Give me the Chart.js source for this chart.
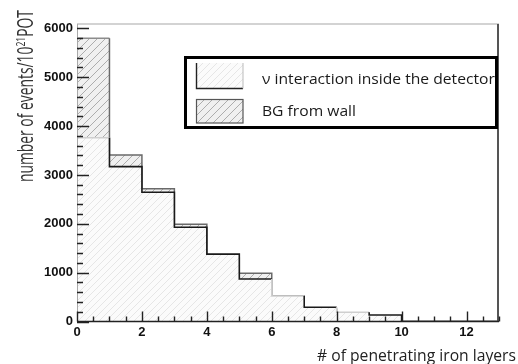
<!DOCTYPE html>
<html>
<head>
<meta charset="utf-8">
<script src="https://cdn.jsdelivr.net/npm/chart.js@4.4.1/dist/chart.umd.min.js"></script>
<style>
  html, body { margin: 0; padding: 0; background: #fff; }
  #wrap { width: 518px; height: 364px; }
</style>
</head>
<body>
<div id="wrap"><canvas id="c" width="518" height="364"></canvas></div>
<script>
// events per bin of penetrated iron layers (bins 0-1, 1-2, ... 12-13)
const signalCounts = [3760, 3170, 2645, 1930, 1380, 870, 522, 291, 188, 133, 0, 0, 0];
const bgCounts     = [5800, 3410, 2720, 1990, 1300, 987, 522, 250, 150, 100, 0, 0, 0];
const seriesNames  = ['\u03bd interaction inside the detector', 'BG from wall'];
const xTickValues  = [0, 2, 4, 6, 8, 10, 12];
const yTickValues  = [0, 1000, 2000, 3000, 4000, 5000, 6000];
const xTitle = '# of penetrating iron layers';

// step outline through the bin right edges
function steps(counts) {
    const pts = [{ x: 0, y: 0 }];
    counts.forEach((v, i) => pts.push({ x: i + 1, y: v }));
    pts.push({ x: counts.length, y: 0 });
    return pts;
}

function hatch(bg, fg, s) {
    const c = document.createElement('canvas');
    c.width = c.height = s;
    const g = c.getContext('2d');
    g.fillStyle = bg;
    g.fillRect(0, 0, s, s);
    g.strokeStyle = fg;
    g.lineWidth = 1;
    g.beginPath();
    g.moveTo(0, s); g.lineTo(s, 0);
    g.moveTo(-1, 1); g.lineTo(1, -1);
    g.moveTo(s - 1, s + 1); g.lineTo(s + 1, s - 1);
    g.stroke();
    return document.getElementById('c').getContext('2d').createPattern(c, 'repeat');
}

const sigPattern = hatch('#fbfbfb', '#e6e6e6', 7);
const bgPattern = hatch('#f0f0f0', '#adadad', 8);
const dimBins = new Set([0, 6, 8]);

// draws text squeezed to a given width
function fitText(ctx, parts, x, y, width, rotate) {
    let total = 0;
    parts.forEach(p => { ctx.font = p.font; p.w = ctx.measureText(p.text).width; total += p.w; });
    ctx.save();
    ctx.translate(x, y);
    if (rotate) ctx.rotate(-Math.PI / 2);
    ctx.scale(width / total, 1);
    let cx = 0;
    parts.forEach(p => {
        ctx.font = p.font;
        ctx.fillText(p.text, cx, p.dy || 0);
        cx += p.w;
    });
    ctx.restore();
}

const rootStyle = {
    id: 'rootStyle',
    afterDatasetsDraw(chart) {
        const ctx = chart.ctx, a = chart.chartArea;
        const xs = chart.scales.x, ys = chart.scales.y;
        ctx.save();
        // frame
        ctx.strokeStyle = '#c4c4c4'; ctx.lineWidth = 1.5;
        ctx.beginPath(); ctx.moveTo(a.left, a.top); ctx.lineTo(a.right, a.top); ctx.stroke();
        ctx.strokeStyle = '#a8a8a8'; ctx.lineWidth = 1;
        ctx.beginPath(); ctx.moveTo(a.left + 0.5, a.top); ctx.lineTo(a.left + 0.5, a.bottom); ctx.stroke();
        ctx.strokeStyle = '#555'; ctx.lineWidth = 2;
        ctx.beginPath(); ctx.moveTo(a.right - 1, a.top); ctx.lineTo(a.right - 1, a.bottom); ctx.stroke();
        ctx.strokeStyle = '#222'; ctx.lineWidth = 1.5;
        ctx.beginPath(); ctx.moveTo(a.left, a.bottom); ctx.lineTo(a.right, a.bottom); ctx.stroke();
        // inside ticks
        ctx.strokeStyle = '#222'; ctx.lineWidth = 1.4;
        ctx.beginPath();
        for (let v = 0; v <= ys.max; v += 200) {
            const py = Math.round(ys.getPixelForValue(v)) + 0.5;
            const len = v % 1000 === 0 ? 12 : 6;
            ctx.moveTo(a.left, py); ctx.lineTo(a.left + len, py);
        }
        for (let v = 0; v <= xs.max; v += 0.5) {
            const px = Math.round(xs.getPixelForValue(v)) + 0.5;
            const len = v % 2 === 0 ? 10 : 5;
            ctx.moveTo(px, a.bottom); ctx.lineTo(px, a.bottom - len);
        }
        ctx.stroke();
        ctx.restore();
    },
    afterDraw(chart) {
        const ctx = chart.ctx;
        ctx.save();
        ctx.fillStyle = '#333';
        ctx.textBaseline = 'alphabetic';
        // axis titles
        fitText(ctx, [
            { text: 'number of events/10', font: '21px "Open Sans"' },
            { text: '21', font: '13px "Open Sans"', dy: -8 },
            { text: 'POT', font: '21px "Open Sans"' }
        ], 33, 182, 172, true);
        ctx.fillStyle = '#222';
        fitText(ctx, [{ text: xTitle, font: '17px "Open Sans"' }], 317, 361, 199, false);

        // legend
        const L = { x: 185.5, y: 57.5, w: 311, h: 70 };
        ctx.fillStyle = '#fff';
        ctx.fillRect(L.x, L.y, L.w, L.h);
        ctx.fillStyle = sigPattern;
        ctx.fillRect(196, 63, 47, 25);
        ctx.strokeStyle = '#222'; ctx.lineWidth = 1.4;
        ctx.beginPath(); ctx.moveTo(196.5, 63); ctx.lineTo(196.5, 88.5); ctx.lineTo(243, 88.5); ctx.stroke();
        ctx.strokeStyle = '#bbb'; ctx.lineWidth = 1;
        ctx.beginPath(); ctx.moveTo(243, 63); ctx.lineTo(243, 88.5); ctx.stroke();
        ctx.fillStyle = bgPattern;
        ctx.fillRect(196, 99, 47, 24);
        ctx.strokeStyle = '#555'; ctx.lineWidth = 1.2;
        ctx.strokeRect(196.5, 99.5, 46.5, 23.5);

        ctx.save();
        ctx.beginPath(); ctx.rect(L.x, L.y, L.w - 1, L.h); ctx.clip();
        ctx.font = '15px "Open Sans"';
        const k = 94 / ctx.measureText(seriesNames[1]).width;
        ctx.fillStyle = '#1a1a1a';
        ctx.textBaseline = 'middle';
        [80, 112].forEach((yy, i) => {
            ctx.save();
            ctx.translate(262, yy);
            ctx.scale(k, 1);
            ctx.fillText(seriesNames[i], 0, 0);
            ctx.restore();
        });
        ctx.restore();
        ctx.strokeStyle = '#000'; ctx.lineWidth = 3;
        ctx.strokeRect(L.x, L.y, L.w, L.h);
        ctx.restore();
    }
};

const tickFont = { family: 'Liberation Sans', weight: 'bold', size: 13 };

new Chart(document.getElementById('c'), {
    type: 'line',
    data: {
        datasets: [{
            // outline of the signal histogram
            label: seriesNames[0],
            data: steps(signalCounts),
            stepped: 'after',
            borderColor: '#1a1a1a',
            borderWidth: 1.6,
            fill: false,
            pointRadius: 0,
            segment: {
                borderColor: c => dimBins.has(c.p0DataIndex) ? '#cfcfcf' : undefined
            }
        }, {
            // fill of the signal histogram
            label: seriesNames[0],
            data: steps(signalCounts),
            stepped: 'after',
            borderWidth: 0,
            borderColor: 'rgba(0,0,0,0)',
            backgroundColor: sigPattern,
            fill: 'origin',
            pointRadius: 0
        }, {
            label: seriesNames[1],
            data: steps(bgCounts),
            stepped: 'after',
            borderColor: '#6a6a6a',
            borderWidth: 1.5,
            backgroundColor: bgPattern,
            fill: 'origin',
            pointRadius: 0,
            segment: {
                borderColor: c => c.p0DataIndex === 0 ? '#8c8c8c' : undefined
            }
        }]
    },
    options: {
        responsive: false,
        animation: false,
        layout: { padding: { top: 24, right: 19, left: 0, bottom: 0 } },
        plugins: { legend: { display: false }, tooltip: { enabled: false } },
        scales: {
            x: {
                type: 'linear', min: 0, max: 13,
                grid: { display: false, drawTicks: false },
                border: { display: false },
                ticks: { padding: 3, color: '#111', font: tickFont, callback: v => String(v) },
                afterBuildTicks: s => { s.ticks = xTickValues.map(v => ({ value: v })); },
                afterFit: s => { s.height = 42.5; }
            },
            y: {
                min: 0, max: 6090,
                grid: { display: false, drawTicks: false },
                border: { display: false },
                ticks: { padding: 4, color: '#111', font: tickFont, callback: v => String(v) },
                afterBuildTicks: s => { s.ticks = yTickValues.map(v => ({ value: v })); },
                afterFit: s => { s.width = 77; }
            }
        }
    },
    plugins: [rootStyle]
});
</script>
</body>
</html>
